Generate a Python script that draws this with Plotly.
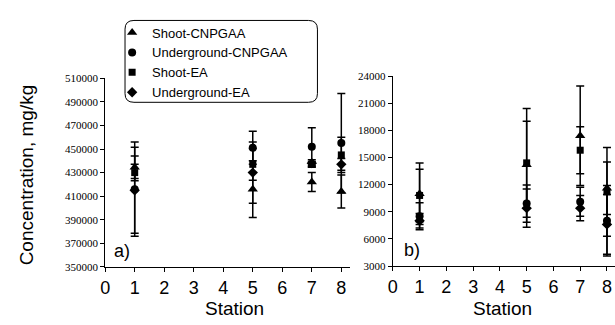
import plotly.graph_objects as go

W, H = 615, 325

# ---------------- data ----------------
stations = [1, 5, 7, 8]
series_names = ["Shoot-CNPGAA", "Underground-CNPGAA", "Shoot-EA", "Underground-EA"]

# panel a)
shoot_cnpgaa_a = [434500, 416000, 422000, 414000]
shoot_cnpgaa_a_err = [9500, 24000, 8000, 14000]
under_cnpgaa_a = [416000, 451000, 452000, 455000]
under_cnpgaa_a_err = [40000, 14000, 16000, 42000]
shoot_ea_a = [430000, 437000, 437000, 445000]
shoot_ea_a_err = [7000, 13500, 2500, 15000]
under_ea_a = [415000, 430000, 438000, 437000]
under_ea_a_err = [36500, 26000, 3000, 5000]

# panel b)
shoot_cnpgaa_b = [11000, 14200, 17400, 11600]
shoot_cnpgaa_b_err = [3400, 4800, 5500, 2900]
under_cnpgaa_b = [8500, 9900, 10100, 8000]
under_cnpgaa_b_err = [1500, 2050, 1600, 3900]
shoot_ea_b = [10800, 14400, 15800, 11200]
shoot_ea_b_err = [2900, 6000, 2600, 4900]
under_ea_b = [8000, 9400, 9400, 7600]
under_ea_b_err = [800, 2100, 1400, 3300]

yticks_a = [350000, 370000, 390000, 410000, 430000, 450000, 470000, 490000, 510000]
yticks_b = [3000, 6000, 9000, 12000, 15000, 18000, 21000, 24000]
xticks = [0, 1, 2, 3, 4, 5, 6, 7, 8]

# ---------------- helpers ----------------
def px(x):
    return x / W

def py(y):
    return (H - y) / H

SANS = "Arial, Liberation Sans, sans-serif"
SERIF = "Times New Roman, Liberation Serif, serif"

symbols = ["triangle-up", "circle", "square", "diamond"]
sizes = [9, 8, 7, 8]

panel_a = [(shoot_cnpgaa_a, shoot_cnpgaa_a_err), (under_cnpgaa_a, under_cnpgaa_a_err),
           (shoot_ea_a, shoot_ea_a_err), (under_ea_a, under_ea_a_err)]
panel_b = [(shoot_cnpgaa_b, shoot_cnpgaa_b_err), (under_cnpgaa_b, under_cnpgaa_b_err),
           (shoot_ea_b, shoot_ea_b_err), (under_ea_b, under_ea_b_err)]

fig = go.Figure()
for i, name in enumerate(series_names):
    for panel, (vals, errs) in enumerate([panel_a[i], panel_b[i]]):
        fig.add_trace(go.Scatter(
            x=stations, y=vals,
            mode="markers",
            name=name,
            legendgroup=name,
            showlegend=(panel == 0),
            xaxis="x" if panel == 0 else "x2",
            yaxis="y" if panel == 0 else "y2",
            marker=dict(symbol=symbols[i], size=sizes[i], color="black"),
            error_y=dict(type="data", array=errs, visible=True,
                         color="black", thickness=1.5, width=4),
            cliponaxis=False,
        ))

axis_common = dict(
    showgrid=False, zeroline=False, showline=True, linecolor="black", linewidth=1,
    ticks="outside", ticklen=4, tickcolor="black", mirror=False,
)

fig.update_layout(
    width=W, height=H,
    margin=dict(l=0, r=0, t=0, b=0),
    paper_bgcolor="white", plot_bgcolor="white",
    xaxis=dict(domain=[px(101), px(348)], range=[0, 8.3], tickvals=xticks,
               tickfont=dict(family=SANS, size=18, color="black"), anchor="y", **axis_common),
    yaxis=dict(domain=[py(271), py(75)], range=[350000, 510000], tickvals=yticks_a,
               tickformat="d",
               tickfont=dict(family=SERIF, size=11, color="black"), anchor="x", **axis_common),
    xaxis2=dict(domain=[px(391), px(615)], range=[0, 8.3], tickvals=xticks,
                tickfont=dict(family=SANS, size=18, color="black"), anchor="y2", **axis_common),
    yaxis2=dict(domain=[py(270), py(72.7)], range=[3000, 24000], tickvals=yticks_b,
                tickformat="d",
                tickfont=dict(family=SERIF, size=11, color="black"), anchor="x2", **axis_common),
    legend=dict(x=px(108), y=py(12), xanchor="left", yanchor="top",
                bgcolor="rgba(0,0,0,0)", borderwidth=0,
                font=dict(family=SANS, size=13, color="black"),
                tracegroupgap=0),
    showlegend=True,
)

# rounded legend frame
x0, x1, y0, y1 = px(121), px(315), py(100), py(15)
rx, ry = 9 / W, 9 / H
path = (f"M {x0+rx},{y1} L {x1-rx},{y1} Q {x1},{y1} {x1},{y1-ry} "
        f"L {x1},{y0+ry} Q {x1},{y0} {x1-rx},{y0} "
        f"L {x0+rx},{y0} Q {x0},{y0} {x0},{y0+ry} "
        f"L {x0},{y1-ry} Q {x0},{y1} {x0+rx},{y1} Z")
fig.add_shape(type="path", path=path, xref="paper", yref="paper",
              line=dict(color="black", width=1), fillcolor="white", layer="below")

annots = [
    dict(text="Concentration, mg/kg", x=px(22), y=py(175), textangle=-90,
         font=dict(family=SANS, size=19, color="black")),
    dict(text="Station", x=px(231), y=py(314), font=dict(family=SANS, size=19, color="black")),
    dict(text="Station", x=px(502), y=py(314), font=dict(family=SANS, size=19, color="black")),
    dict(text="a)", x=px(118), y=py(254), font=dict(family=SANS, size=18, color="black")),
    dict(text="b)", x=px(410), y=py(253), font=dict(family=SANS, size=18, color="black")),
]
for a in annots:
    fig.add_annotation(xref="paper", yref="paper", showarrow=False,
                       xanchor="center", yanchor="middle", **a)

fig.write_html("out.html",
               config={"displayModeBar": False},
               post_script="document.body.style.margin='0';document.body.style.padding='0';")
